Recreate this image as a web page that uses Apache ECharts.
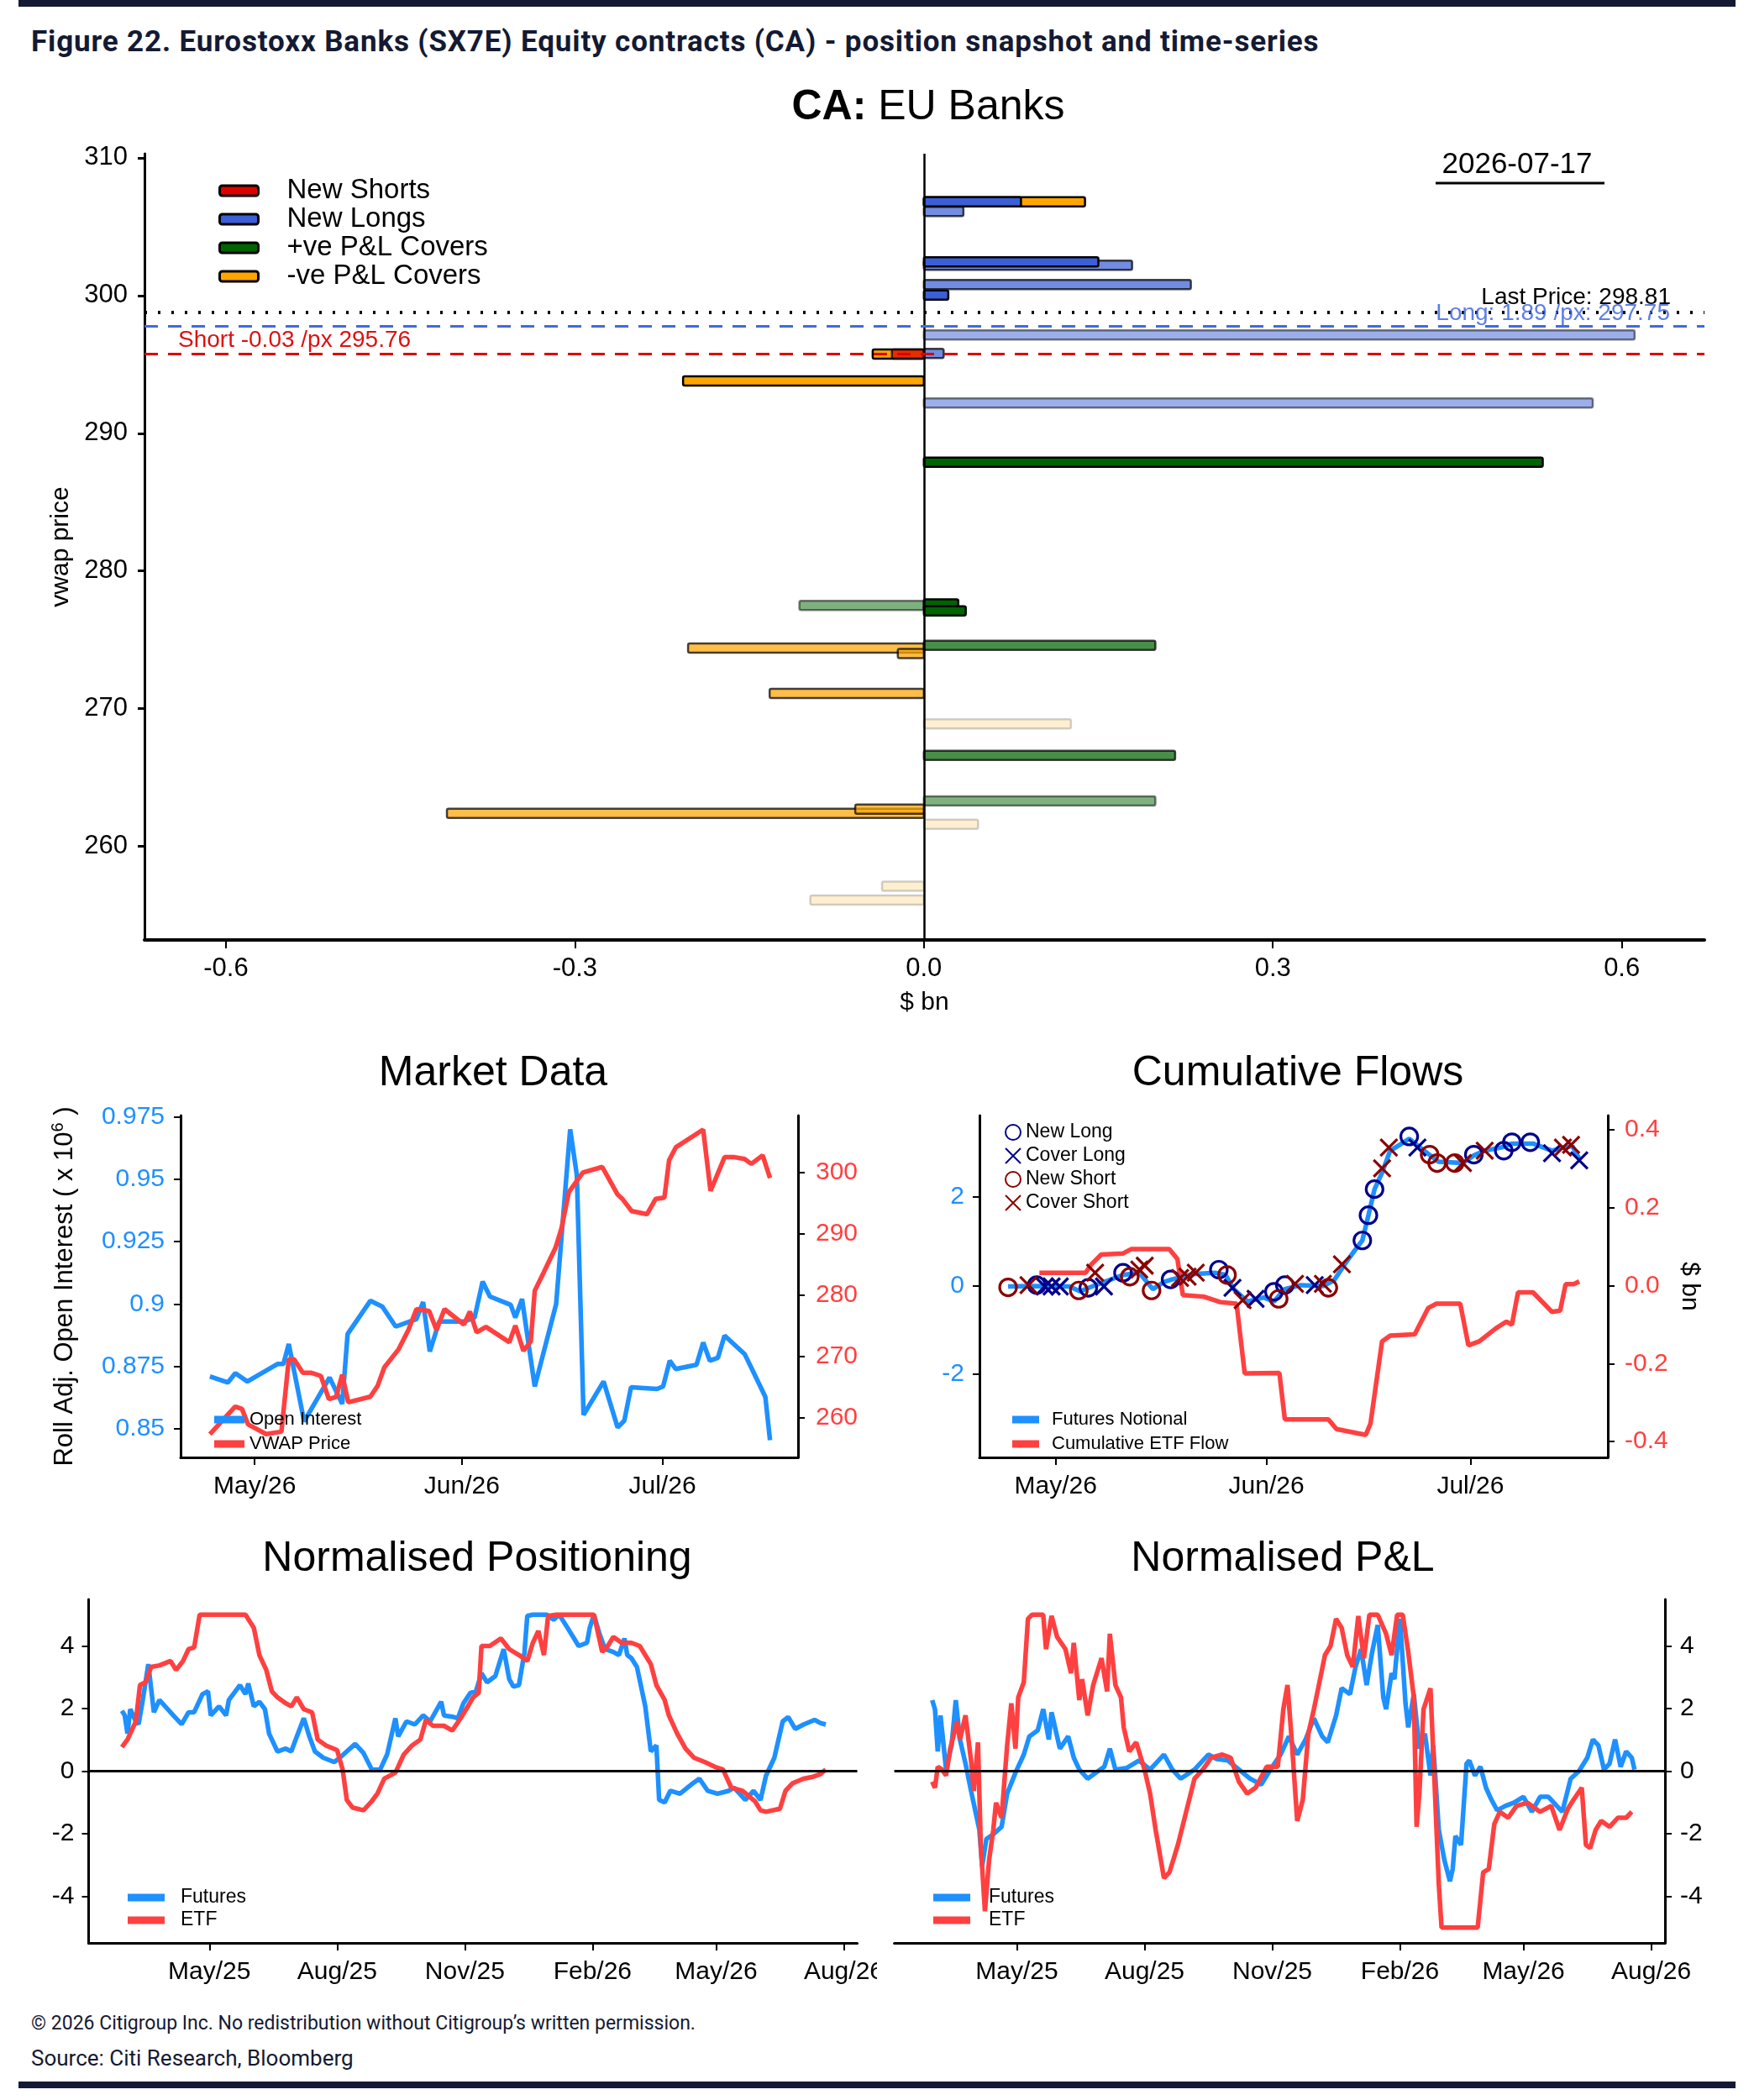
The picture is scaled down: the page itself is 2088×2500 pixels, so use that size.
<!DOCTYPE html>
<html>
<head>
<meta charset="utf-8">
<script src="https://cdn.jsdelivr.net/npm/echarts@6/dist/echarts.min.js"></script>
<style>
  body { margin: 0; width: 2088px; height: 2500px; background: #fff; position: relative; overflow: hidden; }
  .rule { position: absolute; left: 22px; width: 2044px; background: #141a33; }
  #figtitle { position: absolute; left: 37px; top: 29px; font: 700 35px Roboto, sans-serif; letter-spacing: 0.85px; color: #141a33; white-space: nowrap; }
  .foot { position: absolute; left: 37px; font-family: Roboto, sans-serif; color: #141a33; white-space: nowrap; }
  .chart { position: absolute; }
  .clip { position: absolute; overflow: hidden; }
</style>
</head>
<body>
<div class="rule" style="top:0;height:8px"></div>
<div id="figtitle">Figure 22. Eurostoxx Banks (SX7E) Equity contracts (CA) - position snapshot and time-series</div>

<div id="top" class="chart" style="left:0;top:90px;width:2088px;height:1140px"></div>
<div id="md" class="chart" style="left:0;top:1230px;width:1040px;height:560px"></div>
<div id="cf" class="chart" style="left:1040px;top:1230px;width:1048px;height:560px"></div>
<div class="clip" style="left:0;top:1790px;width:1044px;height:590px">
  <div id="pos" style="width:1110px;height:590px"></div>
</div>
<div id="pnl" class="chart" style="left:1044px;top:1790px;width:1044px;height:590px"></div>

<div class="foot" style="top:2395px;font-size:23px">© 2026 Citigroup Inc. No redistribution without Citigroup’s written permission.</div>
<div class="foot" style="top:2435px;font-size:26px">Source: Citi Research, Bloomberg</div>
<div class="rule" style="top:2478px;height:8px"></div>

<script type="text/javascript">
  var FONT = "'Liberation Sans', Arial, Helvetica, sans-serif";
  var DAY = 86400000;

  // ---- position snapshot (vwap price, $bn, type, age: 0 = latest) ----
  var barPrice = [306.8, 306.8, 306.1, 302.2, 302.45, 300.8, 300.04, 297.14, 295.75, 295.75, 295.8, 293.8, 292.2, 287.9,
                  277.5, 277.6, 277.1, 274.6, 274.4, 274.0, 271.1, 268.9, 266.6, 263.3, 262.4, 262.7, 261.6, 257.1, 256.1];
  var barValue = [0.1385, 0.0835, 0.034, 0.179, 0.150, 0.2295, 0.021, 0.611, -0.044, -0.0275, 0.017, -0.207, 0.575, 0.532,
                  -0.107, 0.0296, 0.036, 0.199, -0.2027, -0.0224, -0.1326, 0.1264, 0.216, 0.199, -0.41, -0.059, 0.0466, -0.036, -0.0976];
  var barType = ['NC','NL','NL','NL','NL','NL','NL','NL','NC','NS','NL','NC','NL','PC',
                 'PC','PC','PC','PC','NC','NC','NC','NC','PC','PC','NC','NC','NC','NC','NC'];
  var barAge = [0,0,1,1,0,1,0,2,0,1,1,0,2,0,2,0,0,1,1,1,1,3,1,2,1,1,3,3,3];
  var lastPrice = 298.81;
  var longAmt = 1.89, longPx = 297.75;
  var shortAmt = -0.03, shortPx = 295.76;
  var snapDate = '2026-07-17';

  // ---- market data: [days since 2026-05-01, value] ----
  var oiPts = [[-6.7,0.871],[-4,0.8686],[-2.9,0.8723],[-1.1,0.869],[3.4,0.876],[4.3,0.876],[5.1,0.884],[7.4,0.853],[11.2,0.8706],
    [13.1,0.86],[13.9,0.888],[17.3,0.9013],[19.1,0.899],[21.1,0.891],[24.2,0.894],[25.2,0.9008],[26.2,0.881],[27.6,0.893],
    [31.4,0.893],[32.9,0.8946],[34.1,0.909],[35.2,0.903],[38.3,0.8997],[39,0.8946],[40,0.902],[41.9,0.867],[45.1,0.9],
    [47.2,0.97],[48.2,0.9516],[49.2,0.8556],[52.2,0.869],[54.3,0.8506],[55.3,0.8533],[56.3,0.8667],[60.2,0.866],[61.1,0.867],
    [62.1,0.8773],[63,0.874],[66.1,0.8757],[67.1,0.8846],[68.1,0.8773],[69.3,0.8785],[70.3,0.8874],[73.3,0.88],[74.5,0.8734],
    [76.4,0.8628],[77.1,0.8455]];
  var vwapPts = [[-6.7,257.3],[-2.9,261.8],[-1.9,261.4],[-1,258.9],[1.7,257.3],[4,257.7],[5.1,269.5],[5.9,269.5],[7.2,267.3],
    [8.5,267.3],[9.9,266.8],[11.1,263],[12.2,263.4],[13.1,267],[14,262.5],[17.3,263.4],[18.4,265.2],[19.4,268.2],[21.5,271.1],
    [23,274.3],[24.2,277.7],[26.1,277.4],[27.2,274.3],[28.4,277.7],[31.3,275.2],[32.2,277.3],[33.2,273.9],[34.6,274.8],
    [38.1,272.3],[39,275],[40.2,270.9],[41.3,272.4],[41.9,280.7],[43.2,283.6],[45,287.7],[45.9,290.9],[47,296.8],[49.1,300],
    [52,300.9],[54.3,296.4],[55,295.7],[56.4,293.7],[58.7,293.2],[60,295.7],[61.3,295.9],[62,302],[63,304.1],[67.1,307],
    [68.2,297],[70.3,302.5],[71.8,302.5],[73.3,302.2],[74.3,301.4],[76,302.8],[77.1,299.1]];

  // ---- cumulative flows: [days since 2026-05-01, value] ----
  var cfFutPts = [[-7,-0.02],[-3.6,-0.01],[2,-0.02],[3.6,-0.13],[5.2,-0.03],[7.1,0.08],[9.9,0.24],[12.3,0.29],[14.3,-0.08],
    [15.9,0.08],[17.1,0.14],[20.2,0.26],[23.4,0.29],[25,0.24],[26.2,-0.08],[28.2,-0.36],[30.6,-0.27],[32.1,-0.36],[33.7,-0.08],
    [36.1,0.01],[39.3,-0.01],[40.9,0.11],[42.5,0.48],[44,0.8],[45.1,1.02],[46,1.59],[46.9,2.18],[48,2.55],[49.2,3.05],
    [51.2,3.24],[52,3.32],[53.6,3.12],[55.2,2.93],[56.3,2.8],[59.9,2.77],[61.5,2.94],[63.1,3.05],[65.5,3.12],[67.1,3.21],
    [70.2,3.21],[73,3.05],[74.6,3.12],[76,3.15],[77,2.87]];
  var cfEtfPts = [[-2.4,0.033],[4.4,0.033],[5.2,0.054],[6.7,0.08],[9.9,0.083],[11.1,0.094],[16.7,0.094],[17.9,0.069],
    [18.7,-0.024],[21.8,-0.028],[24.2,-0.042],[26.6,-0.046],[27.8,-0.225],[32.9,-0.224],[33.7,-0.343],[40.1,-0.343],
    [41.3,-0.368],[45.6,-0.383],[46.3,-0.354],[48,-0.143],[49.2,-0.128],[52.8,-0.125],[54.8,-0.057],[56,-0.046],[59.5,-0.046],
    [60.7,-0.153],[62.3,-0.143],[64.7,-0.11],[66.3,-0.092],[67.1,-0.1],[68,-0.017],[70.2,-0.017],[73,-0.067],[74.2,-0.064],
    [75,0.004],[76.2,0.004],[77,0.011]];
  var newLongPts = [[-2.8,0.01],[4.8,-0.05],[9.9,0.29],[16.9,0.14],[24,0.36],[32.1,-0.14],[33.7,0.01],[45.1,1.02],[46,1.59],
    [46.9,2.18],[52,3.37],[61.5,2.96],[65.9,3.05],[67.1,3.24],[69.8,3.24]];
  var coverLongPts = [[-1.6,-0.02],[-0.6,-0.02],[0.6,-0.02],[7.1,-0.02],[26,-0.05],[29.4,-0.3],[38.1,0.01],[53.2,3.12],
    [73,2.99],[77,2.83]];
  var newShortPts = [[-7,-0.04],[3.4,-0.11],[10.9,0.2],[14.1,-0.11],[25.2,0.24],[32.8,-0.3],[40.1,-0.05],[55,2.96],
    [56.1,2.77],[58.7,2.77]];
  var coverShortPts = [[-4,0.01],[5.8,0.29],[12.3,0.36],[13.1,0.45],[18.3,0.17],[19.4,0.2],[20.6,0.29],[27.5,-0.33],
    [35.2,0.04],[39.3,0.04],[42.1,0.48],[48,2.65],[49,3.12],[59.9,2.77],[63.1,3.05],[74.6,3.12],[75.8,3.18]];

  // ---- normalised positioning: [days since 2025-05-01, z] ----
  var posFutPts = [[-63,1.93],[-61,1.78],[-59,1.2],[-57,1.98],[-53,1.59],[-51,1.5],[-48,2.27],[-44,3.42],[-42,2.65],[-40,1.88],
    [-36,2.27],[-30,1.98],[-26,1.78],[-20,1.5],[-15,1.88],[-11,1.88],[-5,2.46],[-1,2.55],[1,1.78],[7,2.07],[12,1.78],[14,2.27],
    [22,2.75],[26,2.46],[28,2.8],[32,2.07],[36,2.22],[40,1.98],[43,1.2],[49,0.63],[55,0.72],[59,0.63],[63,1.11],[68,1.69],
    [72,1.11],[76,0.63],[82,0.43],[90,0.29],[94,0.43],[99,0.63],[105,0.87],[111,0.58],[117,0.05],[123,0.05],[128,0.53],
    [134,1.69],[136,1.11],[142,1.59],[148,1.49],[154,1.78],[159,1.59],[167,2.22],[169,1.78],[175,1.74],[179,1.69],[183,2.17],
    [188,2.5],[192,2.55],[196,3.13],[200,2.84],[206,3.04],[212,3.9],[216,2.94],[219,2.7],[223,2.75],[227,3.81],[229,4.96],
    [233,5],[243,5],[248,4.84],[252,5],[258,4.58],[266,4],[272,4.1],[274,4.58],[277,5],[281,4.39],[285,3.9],[291,3.81],
    [295,3.71],[299,4.24],[301,3.71],[304,3.61],[308,3.33],[314,2.07],[318,0.63],[322,0.82],[324,-0.92],[328,-1],[332,-0.63],
    [339,-0.72],[347,-0.43],[353,-0.24],[359,-0.63],[366,-0.72],[374,-0.63],[378,-0.53],[386,-0.92],[392,-0.63],[397,-0.92],
    [401,-0.14],[407,0.43],[413,1.59],[417,1.73],[422,1.35],[428,1.49],[436,1.64],[440,1.54],[444,1.49]];
  var posEtfPts = [[-63,0.77],[-59,1.01],[-53,1.59],[-50,2.75],[-46,2.84],[-42,3.33],[-36,3.38],[-28,3.52],[-24,3.23],[-19,3.52],
    [-15,3.9],[-11,3.95],[-7,5],[26,5],[32,4.58],[36,3.71],[41,3.23],[45,2.55],[49,2.36],[55,2.17],[59,2.07],[63,2.36],[68,1.98],
    [74,1.88],[78,1.01],[84,0.82],[92,0.67],[96,0.05],[99,-0.92],[103,-1.16],[111,-1.25],[117,-0.96],[121,-0.72],[126,-0.24],
    [134,-0.05],[140,0.53],[146,0.82],[152,1.01],[156,1.64],[161,1.45],[169,1.45],[175,1.3],[181,1.69],[185,1.98],[190,2.36],
    [194,2.5],[196,4],[202,4],[210,4.24],[216,3.9],[223,3.71],[229,3.52],[233,4.1],[237,4.48],[241,3.71],[244,4.96],[250,5],
    [277,5],[283,3.81],[287,4],[291,4.29],[297,4.1],[304,4.1],[310,4],[318,3.42],[322,2.75],[328,2.27],[331,1.78],[337,1.2],
    [343,0.72],[349,0.43],[357,0.29],[364,0.14],[370,0.05],[376,-0.53],[384,-0.63],[393,-0.96],[397,-1.25],[401,-1.3],
    [411,-1.2],[415,-0.63],[420,-0.39],[428,-0.24],[434,-0.19],[440,-0.1],[444,0.05]];

  // ---- normalised P&L: [days since 2025-05-01, z] ----
  var pnlFutPts = [[-61,2.27],[-59,1.98],[-57,0.63],[-55,1.78],[-51,0.05],[-47,0.82],[-44,2.27],[-41,1.01],[-37,0.24],
    [-33,-0.63],[-27,-1.88],[-25,-3.04],[-22,-2.17],[-17,-2.02],[-11,-1.78],[-7,-0.72],[-1,-0.05],[5,0.53],[9,1.11],[15,1.3],
    [19,1.98],[23,1.01],[25,1.88],[31,0.72],[37,1.11],[41,0.43],[45,0.05],[51,-0.24],[57,-0.05],[63,0.14],[67,0.72],[71,0.05],
    [79,0.1],[88,0.34],[96,0.05],[106,0.53],[112,0.05],[118,-0.24],[128,0.05],[138,0.53],[144,0.39],[152,0.34],[160,0.05],
    [168,-0.24],[176,-0.43],[184,0.14],[190,0.53],[196,1.11],[202,0.53],[208,1.01],[214,1.69],[220,1.11],[224,0.92],[230,1.78],
    [234,2.65],[240,2.46],[244,3.33],[248,3.9],[252,2.75],[256,3.81],[260,4.67],[264,2.36],[266,1.98],[270,3.13],[272,2.94],
    [276,4.87],[280,2.17],[282,1.4],[286,2.46],[290,0.72],[294,1.2],[298,-0.14],[300,0.82],[304,-1.88],[308,-2.84],[312,-3.52],
    [314,-3.13],[316,-2.07],[320,-2.36],[324,0.24],[326,0.34],[330,-0.14],[334,0.14],[338,-0.53],[342,-0.92],[346,-1.25],
    [352,-1.11],[358,-1.01],[365,-0.82],[371,-1.3],[377,-0.82],[383,-0.82],[389,-1.11],[393,-1.3],[399,-0.24],[405,0],
    [411,0.43],[415,1.01],[419,0.82],[423,0.05],[427,0.24],[431,1.01],[435,0.14],[439,0.63],[443,0.43],[445,0.05]];
  var pnlEtfPts = [[-61,-0.34],[-59,-0.53],[-57,0.14],[-54,0.05],[-51,-0.14],[-48,0.72],[-43,1.59],[-41,1.01],[-37,1.78],
    [-33,0.34],[-31,-0.63],[-28,0.92],[-26,-2.36],[-23,-4.48],[-20,-2.84],[-17,-1.88],[-15,-1.01],[-11,-1.49],[-7,0.82],
    [-4,2.17],[-1,0.72],[1,2.36],[5,2.84],[8,4.87],[11,5],[19,5],[21,3.9],[25,4.96],[29,4.29],[35,3.9],[39,3.13],[41,4.1],
    [45,2.27],[47,2.94],[51,1.78],[55,2.75],[61,3.61],[65,2.55],[67,4.39],[71,2.75],[75,2.36],[77,1.4],[81,0.63],[86,0.92],
    [92,0.05],[96,-0.72],[100,-1.88],[106,-3.42],[110,-3.23],[116,-2.36],[122,-1.3],[128,-0.24],[134,0.05],[140,0.43],
    [148,0.53],[154,0.43],[160,-0.34],[166,-0.72],[172,-0.53],[180,0.14],[188,0.14],[192,1.98],[195,2.75],[198,1.01],
    [202,-1.59],[206,-0.92],[210,1.2],[214,1.98],[218,2.84],[222,3.71],[226,4],[230,4.87],[234,4.58],[238,3.71],[242,3.33],
    [246,4.96],[250,3.61],[254,5],[260,5],[266,4.39],[270,3.71],[274,5],[278,5],[282,3.81],[286,2.36],[288,-1.78],[290,-0.72],
    [293,1.98],[298,2.65],[301,-0.43],[304,-3.61],[306,-5],[332,-5],[336,-3.23],[340,-3.13],[344,-1.69],[348,-1.3],[354,-1.49],
    [360,-1.11],[368,-1.01],[377,-1.3],[385,-1.11],[391,-1.88],[397,-1.2],[401,-0.92],[407,-0.53],[410,-2.36],[413,-2.46],
    [417,-1.88],[421,-1.59],[427,-1.78],[433,-1.49],[439,-1.49],[443,-1.3]];

  var MON = ['Jan','Feb','Mar','Apr','May','Jun','Jul','Aug','Sep','Oct','Nov','Dec'];
  function fmtMonth(v) {
    var d = new Date(v);
    return MON[d.getUTCMonth()] + '/' + String(d.getUTCFullYear()).slice(2);
  }
  function toTime(base, pts) {
    return pts.map(function (p) { return [base + p[0] * DAY, p[1]]; });
  }
  var MAY25 = Date.UTC(2025, 4, 1), MAY26 = Date.UTC(2026, 4, 1);
  var shortTicks = [Date.UTC(2026,4,1), Date.UTC(2026,5,1), Date.UTC(2026,6,1)];
  var longTicks = [Date.UTC(2025,4,1), Date.UTC(2025,7,1), Date.UTC(2025,10,1), Date.UTC(2026,1,1), Date.UTC(2026,4,1), Date.UTC(2026,7,1)];

  // date axis: value axis over epoch ms, month ticks placed explicitly
  function tAxis(min, max, ticks) {
    return {
      type: 'value', min: min, max: max, scale: true,
      axisLine: { onZero: false, lineStyle: { color: '#000', width: 3 } },
      axisTick: { show: true, customValues: ticks, length: 9, lineStyle: { color: '#000', width: 2 } },
      axisLabel: { customValues: ticks, formatter: fmtMonth, fontSize: 30, color: '#000', margin: 20, fontFamily: FONT },
      splitLine: { show: false }
    };
  }
  function vAxis(o) {
    return {
      type: 'value', position: o.pos || 'left', min: o.min, max: o.max,
      axisLine: { show: true, onZero: false, lineStyle: { color: '#000', width: 3 } },
      axisTick: { show: true, customValues: o.ticks, length: 8, lineStyle: { color: '#000', width: 2 } },
      axisLabel: { customValues: o.ticks, fontSize: 30, color: o.color || '#000', margin: o.margin || 18,
                   fontFamily: FONT, formatter: o.fmt },
      splitLine: { show: false },
      name: o.name, nameLocation: 'middle', nameGap: o.nameGap, nameRotate: o.nameRotate,
      nameTextStyle: o.nameStyle
    };
  }
  function lineSeries(name, data, color, yIdx) {
    return {
      name: name, type: 'line', data: data, yAxisIndex: yIdx || 0, showSymbol: false, symbol: 'none',
      lineStyle: { color: color, width: 5.5 }, itemStyle: { color: color }, emphasis: { disabled: true }
    };
  }
  function zeroLine() {
    return {
      type: 'line', data: [], silent: true,
      markLine: { silent: true, symbol: 'none', label: { show: false },
                  lineStyle: { color: '#000', width: 3, type: 'solid' }, data: [{ yAxis: 0 }] }
    };
  }
  function titleOf(text, x, top) {
    return { text: text, left: x, top: top, textAlign: 'center',
             textStyle: { fontSize: 50, fontWeight: 'normal', color: '#000', fontFamily: FONT } };
  }

  // ================= top snapshot chart =================
  var KIND = {
    NC: { name: '-ve P&L Covers', color: '#ffa500' },
    PC: { name: '+ve P&L Covers', color: '#006400' },
    NL: { name: 'New Longs', color: '#3a5fd6' },
    NS: { name: 'New Shorts', color: '#dd0000' }
  };
  var ageOpacity = [1, 0.72, 0.5, 0.18];

  function barSeries(kind) {
    var data = [];
    for (var i = 0; i < barPrice.length; i++) {
      if (barType[i] === kind) data.push([barValue[i], barPrice[i], barAge[i]]);
    }
    return {
      name: KIND[kind].name, type: 'custom', data: data, encode: { x: 0, y: 1 },
      itemStyle: { color: KIND[kind].color, borderColor: '#000', borderWidth: 3 },
      renderItem: function (params, api) {
        var p0 = api.coord([0, api.value(1)]);
        var p1 = api.coord([api.value(0), api.value(1)]);
        var h = 11;
        return {
          type: 'rect',
          shape: { x: Math.min(p0[0], p1[0]), y: p0[1] - h / 2, width: Math.abs(p1[0] - p0[0]), height: h, r: 2 },
          style: { fill: KIND[kind].color, stroke: '#000', lineWidth: 2.5, opacity: ageOpacity[api.value(2)] }
        };
      }
    };
  }

  var topChart = echarts.init(document.getElementById('top'));
  topChart.setOption({
    animation: false,
    textStyle: { fontFamily: FONT },
    title: { text: '{b|CA:} EU Banks', left: 1100, top: 8, textAlign: 'center',
             textStyle: { fontSize: 50, fontWeight: 'normal', color: '#000', fontFamily: FONT,
                          rich: { b: { fontSize: 50, fontWeight: 'bold', color: '#000', fontFamily: FONT } } } },
    legend: {
      orient: 'vertical', left: 255, top: 115, icon: 'roundRect', itemWidth: 46, itemHeight: 12, itemGap: 0,
      data: ['New Shorts', 'New Longs', '+ve P&L Covers', '-ve P&L Covers'],
      itemStyle: { borderColor: '#000', borderWidth: 3 },
      textStyle: { fontSize: 33, lineHeight: 34, color: '#000', fontFamily: FONT, padding: [0, 0, 0, 29] }
    },
    grid: { left: 172, top: 93, width: 1857, height: 936 },
    xAxis: {
      type: 'value', min: -0.67, max: 0.671,
      axisLine: { onZero: false, lineStyle: { color: '#000', width: 4 } },
      axisTick: { show: true, customValues: [-0.6, -0.3, 0, 0.3, 0.6], length: 10, lineStyle: { color: '#000', width: 2 } },
      axisLabel: { customValues: [-0.6, -0.3, 0, 0.3, 0.6], fontSize: 31, color: '#000', margin: 19, fontFamily: FONT,
                   formatter: function (v) { return v.toFixed(1); } },
      splitLine: { show: false },
      name: '$ bn', nameLocation: 'middle', nameGap: 60,
      nameTextStyle: { fontSize: 30, color: '#000', fontFamily: FONT }
    },
    yAxis: {
      type: 'value', min: 253.2, max: 310.3,
      axisLine: { show: true, onZero: false, lineStyle: { color: '#000', width: 3 } },
      axisTick: { show: true, customValues: [260, 270, 280, 290, 300, 310], length: 8, lineStyle: { color: '#000', width: 3 } },
      axisLabel: { customValues: [260, 270, 280, 290, 300, 310], fontSize: 31, color: '#000', margin: 20, fontFamily: FONT },
      splitLine: { show: false },
      name: 'vwap price', nameLocation: 'middle', nameGap: 84,
      nameTextStyle: { fontSize: 30, color: '#000', fontFamily: FONT }
    },
    graphic: [
      { type: 'text', x: 1806, y: 106, style: { text: snapDate, fontSize: 35, fontFamily: FONT, fill: '#000', align: 'center', verticalAlign: 'middle' } },
      { type: 'line', shape: { x1: 1709, y1: 128, x2: 1910, y2: 128 }, style: { stroke: '#000', lineWidth: 3 } }
    ],
    series: [
      barSeries('NC'), barSeries('PC'), barSeries('NL'), barSeries('NS'),
      {
        type: 'line', data: [], silent: true, z: 5,
        markLine: {
          silent: true, symbol: 'none',
          data: [
            { xAxis: 0, lineStyle: { color: '#000', width: 2.5, type: 'solid' }, label: { show: false } },
            { yAxis: lastPrice, lineStyle: { color: '#000', width: 4, type: [3, 13] },
              label: { show: true, position: 'insideEndTop', distance: [40, 3], formatter: 'Last Price: ' + lastPrice.toFixed(2),
                       fontSize: 28, color: '#000', fontFamily: FONT } },
            { yAxis: longPx, lineStyle: { color: '#4169e1', width: 3, type: [16, 12] },
              label: { show: true, position: 'insideEndTop', distance: [41, 1], formatter: 'Long: ' + longAmt.toFixed(2) + ' /px: ' + longPx.toFixed(2),
                       fontSize: 28, color: 'rgba(65,105,225,0.85)', fontFamily: FONT } },
            { yAxis: shortPx, lineStyle: { color: '#dd0000', width: 3, type: [16, 12] },
              label: { show: true, position: 'insideStartTop', distance: [40, 2], formatter: 'Short ' + shortAmt.toFixed(2) + ' /px ' + shortPx.toFixed(2),
                       fontSize: 28, color: '#dd1111', fontFamily: FONT } }
          ]
        }
      }
    ]
  });

  // ================= market data =================
  var md = echarts.init(document.getElementById('md'));
  md.setOption({
    animation: false,
    textStyle: { fontFamily: FONT },
    title: titleOf('Market Data', 582, 18),
    legend: {
      orient: 'vertical', left: 250, top: 442, icon: 'rect', itemWidth: 36, itemHeight: 9, itemGap: 3,
      data: ['Open Interest', 'VWAP Price'],
      textStyle: { fontSize: 22, lineHeight: 26, color: '#000', fontFamily: FONT, padding: [0, 0, 0, 1] }
    },
    grid: { left: 215, top: 98, width: 735, height: 407 },
    xAxis: tAxis(Date.UTC(2026, 3, 19, 22), Date.UTC(2026, 6, 21, 7), shortTicks),
    yAxis: [
      vAxis({ min: 0.8386, max: 0.9755, ticks: [0.85, 0.875, 0.9, 0.925, 0.95, 0.975], color: '#1e90ff', margin: 19,
              name: 'Roll Adj. Open Interest ( x 10{sup|6} )', nameGap: 120,
              nameStyle: { fontSize: 31, color: '#000', fontFamily: FONT, lineHeight: 36,
                           rich: { sup: { fontSize: 20, verticalAlign: 'top', lineHeight: 20, fontFamily: FONT, color: '#000' } } } }),
      vAxis({ pos: 'right', min: 253.5, max: 309.3, ticks: [260, 270, 280, 290, 300], color: '#ff4040', margin: 21 })
    ],
    series: [
      lineSeries('Open Interest', toTime(MAY26, oiPts), '#1e90ff', 0),
      lineSeries('VWAP Price', toTime(MAY26, vwapPts), '#ff4040', 1)
    ]
  });

  // ================= cumulative flows =================
  var XSYM = 'path://M0,0L10,10M10,0L0,10';
  function markerSeries(name, pts, symbol, color) {
    return {
      name: name, type: 'scatter', data: toTime(MAY26, pts), yAxisIndex: 0, symbol: symbol, symbolSize: 20, z: 4,
      itemStyle: { color: 'transparent', borderColor: color, borderWidth: 3.2, opacity: 1 }, emphasis: { disabled: true }
    };
  }
  var cf = echarts.init(document.getElementById('cf'));
  cf.setOption({
    animation: false,
    textStyle: { fontFamily: FONT },
    title: titleOf('Cumulative Flows', 500, 18),
    legend: [
      { orient: 'vertical', left: 151, top: 100, itemWidth: 18, itemHeight: 18, itemGap: 2,
        data: ['New Long', 'Cover Long', 'New Short', 'Cover Short'],
        textStyle: { fontSize: 23, lineHeight: 26, color: '#000', fontFamily: FONT, padding: [0, 0, 0, 1] } },
      { orient: 'vertical', left: 160, top: 442, icon: 'rect', itemWidth: 32, itemHeight: 9, itemGap: 3,
        data: ['Futures Notional', 'Cumulative ETF Flow'],
        textStyle: { fontSize: 22, lineHeight: 26, color: '#000', fontFamily: FONT, padding: [0, 0, 0, 10] } }
    ],
    grid: { left: 126, top: 98, width: 748, height: 407 },
    xAxis: tAxis(Date.UTC(2026, 3, 19, 19), Date.UTC(2026, 6, 21, 5), shortTicks),
    yAxis: [
      vAxis({ min: -3.884, max: 3.844, ticks: [-2, 0, 2], color: '#1e90ff', margin: 18 }),
      vAxis({ pos: 'right', min: -0.4408, max: 0.4371, ticks: [-0.4, -0.2, 0, 0.2, 0.4], color: '#ff4040', margin: 20,
              fmt: function (v) { return v.toFixed(1); },
              name: '$ bn', nameGap: 72, nameRotate: -90, nameStyle: { fontSize: 30, color: '#000', fontFamily: FONT } })
    ],
    series: [
      lineSeries('Cumulative ETF Flow', toTime(MAY26, cfEtfPts), '#ff4040', 1),
      lineSeries('Futures Notional', toTime(MAY26, cfFutPts), '#1e90ff', 0),
      markerSeries('New Long', newLongPts, 'circle', '#00008b'),
      markerSeries('Cover Long', coverLongPts, XSYM, '#00008b'),
      markerSeries('New Short', newShortPts, 'circle', '#8b0000'),
      markerSeries('Cover Short', coverShortPts, XSYM, '#8b0000')
    ]
  });

  // ================= normalised positioning =================
  var pos = echarts.init(document.getElementById('pos'));
  pos.setOption({
    animation: false,
    textStyle: { fontFamily: FONT },
    title: titleOf('Normalised Positioning', 563, 36),
    legend: {
      orient: 'vertical', left: 147, top: 451, icon: 'rect', itemWidth: 44, itemHeight: 9, itemGap: 1,
      data: ['Futures', 'ETF'],
      textStyle: { fontSize: 23, lineHeight: 26, color: '#000', fontFamily: FONT, padding: [0, 0, 0, 14] }
    },
    grid: { left: 105.5, top: 114, width: 915, height: 409 },
    xAxis: tAxis(Date.UTC(2025, 1, 3), Date.UTC(2026, 7, 10, 17), longTicks),
    yAxis: vAxis({ min: -5.49, max: 5.49, ticks: [-4, -2, 0, 2, 4], margin: 17 }),
    series: [
      lineSeries('Futures', toTime(MAY25, posFutPts), '#1e90ff', 0),
      lineSeries('ETF', toTime(MAY25, posEtfPts), '#ff4040', 0),
      zeroLine()
    ]
  });

  // ================= normalised P&L =================
  var pnl = echarts.init(document.getElementById('pnl'));
  pnl.setOption({
    animation: false,
    textStyle: { fontFamily: FONT },
    title: titleOf('Normalised P&L', 478, 36),
    legend: {
      orient: 'vertical', left: 62, top: 451, icon: 'rect', itemWidth: 44, itemHeight: 9, itemGap: 1,
      data: ['Futures', 'ETF'],
      textStyle: { fontSize: 23, lineHeight: 26, color: '#000', fontFamily: FONT, padding: [0, 0, 0, 17] }
    },
    grid: { left: 20.6, top: 114, width: 917.5, height: 409 },
    xAxis: tAxis(Date.UTC(2025, 1, 1, 17), Date.UTC(2026, 7, 11), longTicks),
    yAxis: vAxis({ pos: 'right', min: -5.49, max: 5.49, ticks: [-4, -2, 0, 2, 4], margin: 18 }),
    series: [
      lineSeries('Futures', toTime(MAY25, pnlFutPts), '#1e90ff', 0),
      lineSeries('ETF', toTime(MAY25, pnlEtfPts), '#ff4040', 0),
      zeroLine()
    ]
  });
</script>
</body>
</html>
